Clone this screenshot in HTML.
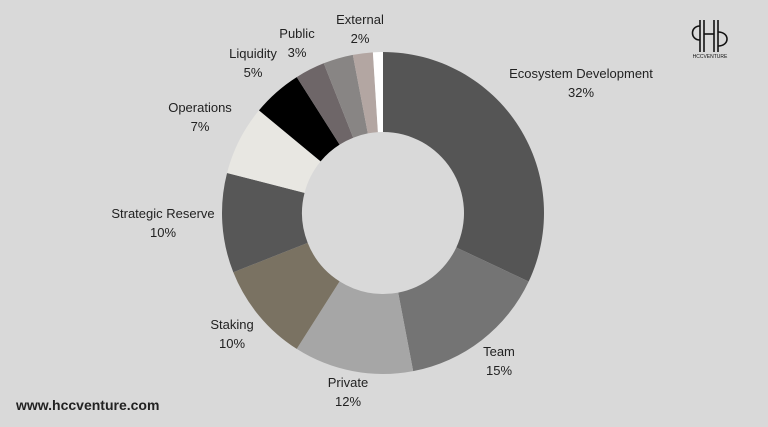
<!DOCTYPE html>
<html><head><meta charset="utf-8"><style>
body{margin:0;background:#d9d9d9;}
svg{display:block;font-family:"Liberation Sans",sans-serif;}
</style></head><body>
<svg width="768" height="427" viewBox="0 0 768 427">
<rect width="768" height="427" fill="#d9d9d9"/>
<g id="slices"></g>
<g id="labels" font-size="13" fill="#222" text-anchor="middle"></g>
<text x="16" y="410" font-size="14" font-weight="bold" fill="#222">www.hccventure.com</text>
<g fill="none" stroke="#111" stroke-width="1.6">
<line x1="700" y1="20" x2="700" y2="52"/><line x1="704" y1="20" x2="704" y2="52"/>
<line x1="714" y1="20" x2="714" y2="52"/><line x1="718" y1="20" x2="718" y2="52"/>
<line x1="704" y1="34" x2="714" y2="34"/>
<path d="M700 26 C690 26 690 40 700 40"/><path d="M718 32 C730 32 730 46 718 46"/>
<text x="710" y="58" font-size="5" fill="#111" stroke="none" text-anchor="middle">HCCVENTURE</text>
</g>
<script>
const categories=["Ecosystem Development","Team","Private","Staking","Strategic Reserve","Operations","Liquidity","Public","Other","External","Reserve"];
const values=[32,15,12,10,10,7,5,3,3,2,1];
const colors=["#555555","#747474","#a6a6a6","#7a7262","#575757","#e8e7e2","#000000","#6e6668","#888584","#b3a6a2","#ffffff"];
const labelShow=[true,true,true,true,true,true,true,true,false,true,false];
const labelPos=[[581,78],[499,356],[348,387],[232,329],[163,218],[200,112],[253,58],[297,38],[0,0],[360,24],[0,0]];
const cx=383,cy=213,ro=161,ri=81;
const total=values.reduce((a,b)=>a+b,0);
const ns="http://www.w3.org/2000/svg";
const g=document.getElementById("slices"),lg=document.getElementById("labels");
let a0=-Math.PI/2;
function pt(r,a){return [cx+r*Math.cos(a),cy+r*Math.sin(a)];}
values.forEach((v,i)=>{
 const a1=a0+v/total*2*Math.PI;
 const large=(a1-a0)>Math.PI?1:0;
 const [x0,y0]=pt(ro,a0),[x1,y1]=pt(ro,a1),[x2,y2]=pt(ri,a1),[x3,y3]=pt(ri,a0);
 const p=document.createElementNS(ns,"path");
 p.setAttribute("d",`M${x0} ${y0}A${ro} ${ro} 0 ${large} 1 ${x1} ${y1}L${x2} ${y2}A${ri} ${ri} 0 ${large} 0 ${x3} ${y3}Z`);
 p.setAttribute("fill",colors[i]);
 
 
 g.appendChild(p);
 if(labelShow[i]){
  const [lx,ly]=labelPos[i];
  const t=document.createElementNS(ns,"text");
  t.setAttribute("x",lx);t.setAttribute("y",ly);
  
  
  t.textContent=categories[i];
  const t2=document.createElementNS(ns,"text");
  t2.setAttribute("x",lx);t2.setAttribute("y",ly+19);
  
  
  t2.textContent=v+"%";
  lg.appendChild(t);lg.appendChild(t2);
 }
 a0=a1;
});
</script>
</svg>
</body></html>
